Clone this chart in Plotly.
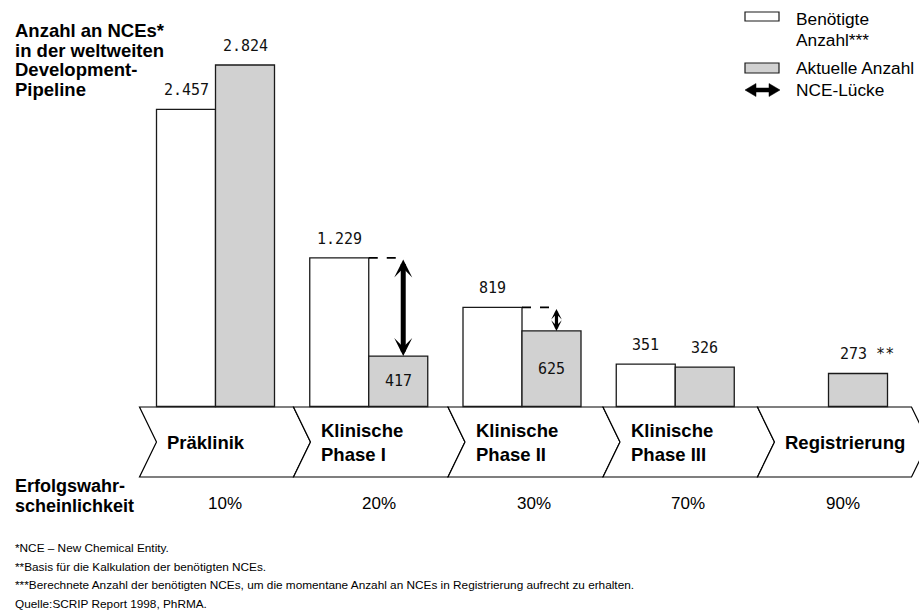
import plotly.graph_objects as go

# ---------------- data ----------------
stages = ["Präklinik", "Klinische<br>Phase I", "Klinische<br>Phase II", "Klinische<br>Phase III", "Registrierung"]
benoetigt = [2457, 1229, 819, 351, None]      # Benötigte Anzahl***
aktuell = [2824, 417, 625, 326, 273]          # Aktuelle Anzahl
aktuell_suffix = ["", "", "", "", " **"]
aktuell_inside = [False, True, True, False, False]
erfolg = ["10%", "20%", "30%", "70%", "90%"]

title_lines = ["Anzahl an NCEs*", "in der weltweiten", "Development-", "Pipeline"]
footnotes = [
    "*NCE – New Chemical Entity.",
    "**Basis für die Kalkulation der benötigten NCEs.",
    "***Berechnete Anzahl der benötigten NCEs, um die momentane Anzahl an NCEs in Registrierung aufrecht zu erhalten.",
    "Quelle:SCRIP Report 1998, PhRMA.",
]
legend_items = ["Benötigte<br>Anzahl***", "Aktuelle Anzahl", "NCE-Lücke"]

# ---------------- layout helpers ----------------
W, H = 919, 612
def px(x):
    return x / W
def py(y):
    return 1 - y / H

SANS = "Liberation Sans, Arial, Helvetica, sans-serif"
NARROW = "Liberation Sans Narrow, Arial Narrow, Liberation Sans, Arial, sans-serif"
MONO = "DejaVu Sans Mono, monospace"
WHITE = "#ffffff"
GRAY = "#d1d1d1"
EDGE = "#1a1a1a"
BW = 0.385  # bar width in category units

def fmt(v):
    return f"{v:,}".replace(",", ".")

xs = list(range(len(stages)))

fig = go.Figure()
fig.add_trace(go.Bar(
    x=xs, y=benoetigt, width=BW, offset=-BW, name="Benötigte Anzahl***",
    marker=dict(color=WHITE, line=dict(color=EDGE, width=1.3)), hoverinfo="skip"))
fig.add_trace(go.Bar(
    x=xs, y=aktuell, width=BW, offset=0, name="Aktuelle Anzahl",
    marker=dict(color=GRAY, line=dict(color=EDGE, width=1.3)), hoverinfo="skip"))

annotations = []
shapes = []
numfont = dict(family=MONO, size=15, color="#111111")

# value labels
for i, v in enumerate(benoetigt):
    if v is None:
        continue
    annotations.append(dict(x=i - BW / 2, y=v, xref="x", yref="y", text=fmt(v),
                            showarrow=False, yanchor="middle", yshift=19, font=numfont))
for i, v in enumerate(aktuell):
    if aktuell_inside[i]:
        annotations.append(dict(x=i + BW / 2, y=v / 2, xref="x", yref="y", text=fmt(v),
                                showarrow=False, yanchor="middle", font=numfont))
    else:
        annotations.append(dict(x=i + BW / 2, y=v, xref="x", yref="y", text=fmt(v) + aktuell_suffix[i],
                                showarrow=False, yanchor="middle", yshift=19,
                                xshift=9 if aktuell_suffix[i] else 0, font=numfont))

# NCE gap arrows (where required > current and noticeable)
for i, (b, a) in enumerate(zip(benoetigt, aktuell)):
    if b is None or b - a < 100:
        continue
    ax_x = i + 0.225
    big = (b - a) > 400
    shapes.append(dict(type="line", xref="x", yref="y", x0=i, x1=ax_x + 0.01, y0=b, y1=b,
                       line=dict(color="#000000", width=1.8, dash="dash")))
    annotations.append(dict(x=ax_x, y=a, ax=ax_x, ay=b, xref="x", yref="y", axref="x", ayref="y",
                            text="", showarrow=True, arrowside="end+start",
                            arrowhead=3, startarrowhead=3,
                            arrowwidth=5 if big else 3.2,
                            arrowsize=0.6 if big else 0.55, startarrowsize=0.6 if big else 0.55,
                            arrowcolor="#000000"))

# chevron process row
sep = [139.5, 293.5, 448, 603, 757.5, 911.5]
tip = 17
top, bot = 407, 477
mid = (top + bot) / 2
for i in range(len(stages)):
    L, R = sep[i], sep[i + 1]
    path = (f"M{px(L)},{py(top)} L{px(R)},{py(top)} L{px(R + tip)},{py(mid)} "
            f"L{px(R)},{py(bot)} L{px(L)},{py(bot)} L{px(L + tip)},{py(mid)} Z")
    shapes.append(dict(type="path", xref="paper", yref="paper", path=path,
                       fillcolor="#ffffff", line=dict(color="#000000", width=1.2), layer="below"))
    annotations.append(dict(x=px(L + 25.5), y=py(mid), xref="paper", yref="paper",
                            text=stages[i], showarrow=False, xanchor="left", yanchor="middle",
                            align="left",
                            font=dict(family=SANS, size=18.5, color="#000000", weight="bold")))
    annotations.append(dict(x=px((L + R) / 2 + 8), y=py(503), xref="paper", yref="paper",
                            text=erfolg[i], showarrow=False, xanchor="center", yanchor="middle",
                            font=dict(family=NARROW, size=17, color="#000000")))

# left labels
for k, line in enumerate(title_lines):
    annotations.append(dict(x=px(13), y=py(30.5 + 19.6 * k), xref="paper", yref="paper", text=line,
                            showarrow=False, xanchor="left", yanchor="middle",
                            font=dict(family=SANS, size=18.5, color="#000000", weight="bold")))
for k, line in enumerate(["Erfolgswahr-", "scheinlichkeit"]):
    annotations.append(dict(x=px(13), y=py(486 + 20 * k), xref="paper", yref="paper", text=line,
                            showarrow=False, xanchor="left", yanchor="middle",
                            font=dict(family=NARROW, size=18, color="#000000", weight="bold")))

# footnotes
for k, line in enumerate(footnotes):
    annotations.append(dict(x=px(13), y=py(548 + 18.7 * k), xref="paper", yref="paper", text=line,
                            showarrow=False, xanchor="left", yanchor="middle",
                            font=dict(family=NARROW, size=11.8, color="#000000")))

# custom legend
shapes.append(dict(type="rect", xref="paper", yref="paper", x0=px(745), x1=px(779), y0=py(12), y1=py(21),
                   fillcolor=WHITE, line=dict(color=EDGE, width=1.2)))
shapes.append(dict(type="rect", xref="paper", yref="paper", x0=px(745), x1=px(779), y0=py(63), y1=py(73),
                   fillcolor=GRAY, line=dict(color=EDGE, width=1.2)))
# solid double-headed legend arrow
ac, hl, hw, sw = 90, 11, 6.5, 2
a0, a1 = 745, 780
pts = [(a0, ac), (a0 + hl, ac - hw), (a0 + hl, ac - sw), (a1 - hl, ac - sw), (a1 - hl, ac - hw),
       (a1, ac), (a1 - hl, ac + hw), (a1 - hl, ac + sw), (a0 + hl, ac + sw), (a0 + hl, ac + hw)]
apath = "M" + " L".join(f"{px(x)},{py(y)}" for x, y in pts) + " Z"
shapes.append(dict(type="path", xref="paper", yref="paper", path=apath,
                   fillcolor="#000000", line=dict(color="#000000", width=0.5)))
leg_font = dict(family=SANS, size=17.3, color="#000000")
annotations.append(dict(x=px(794), y=py(19), xref="paper", yref="paper", text="Benötigte",
                        showarrow=False, xanchor="left", yanchor="middle", font=leg_font))
annotations.append(dict(x=px(794), y=py(40), xref="paper", yref="paper", text="Anzahl***",
                        showarrow=False, xanchor="left", yanchor="middle", font=leg_font))
annotations.append(dict(x=px(794), y=py(68), xref="paper", yref="paper", text=legend_items[1],
                        showarrow=False, xanchor="left", yanchor="middle", font=leg_font))
annotations.append(dict(x=px(794), y=py(90), xref="paper", yref="paper", text=legend_items[2],
                        showarrow=False, xanchor="left", yanchor="middle", font=leg_font))

# axis mapping: category i centre at pixel 215.5 + 153.25*i, value 0 at pixel 406.5
x_lo = -215.5 / 153.25
x_hi = (W - 215.5) / 153.25
yscale = (406.5 - 65) / 2824
y_hi = 406.5 / yscale
y_lo = -(H - 406.5) / yscale

fig.update_layout(
    width=W, height=H, autosize=False,
    margin=dict(l=0, r=0, t=0, b=0, pad=0),
    paper_bgcolor="#ffffff", plot_bgcolor="#ffffff",
    showlegend=False, barmode="overlay", separators=",.",
    xaxis=dict(range=[x_lo, x_hi], visible=False, fixedrange=True),
    yaxis=dict(range=[y_lo, y_hi], visible=False, fixedrange=True),
    annotations=annotations, shapes=shapes,
)

fig.write_html("out.html", config={"displayModeBar": False},
               post_script="document.body.style.margin='0';")
